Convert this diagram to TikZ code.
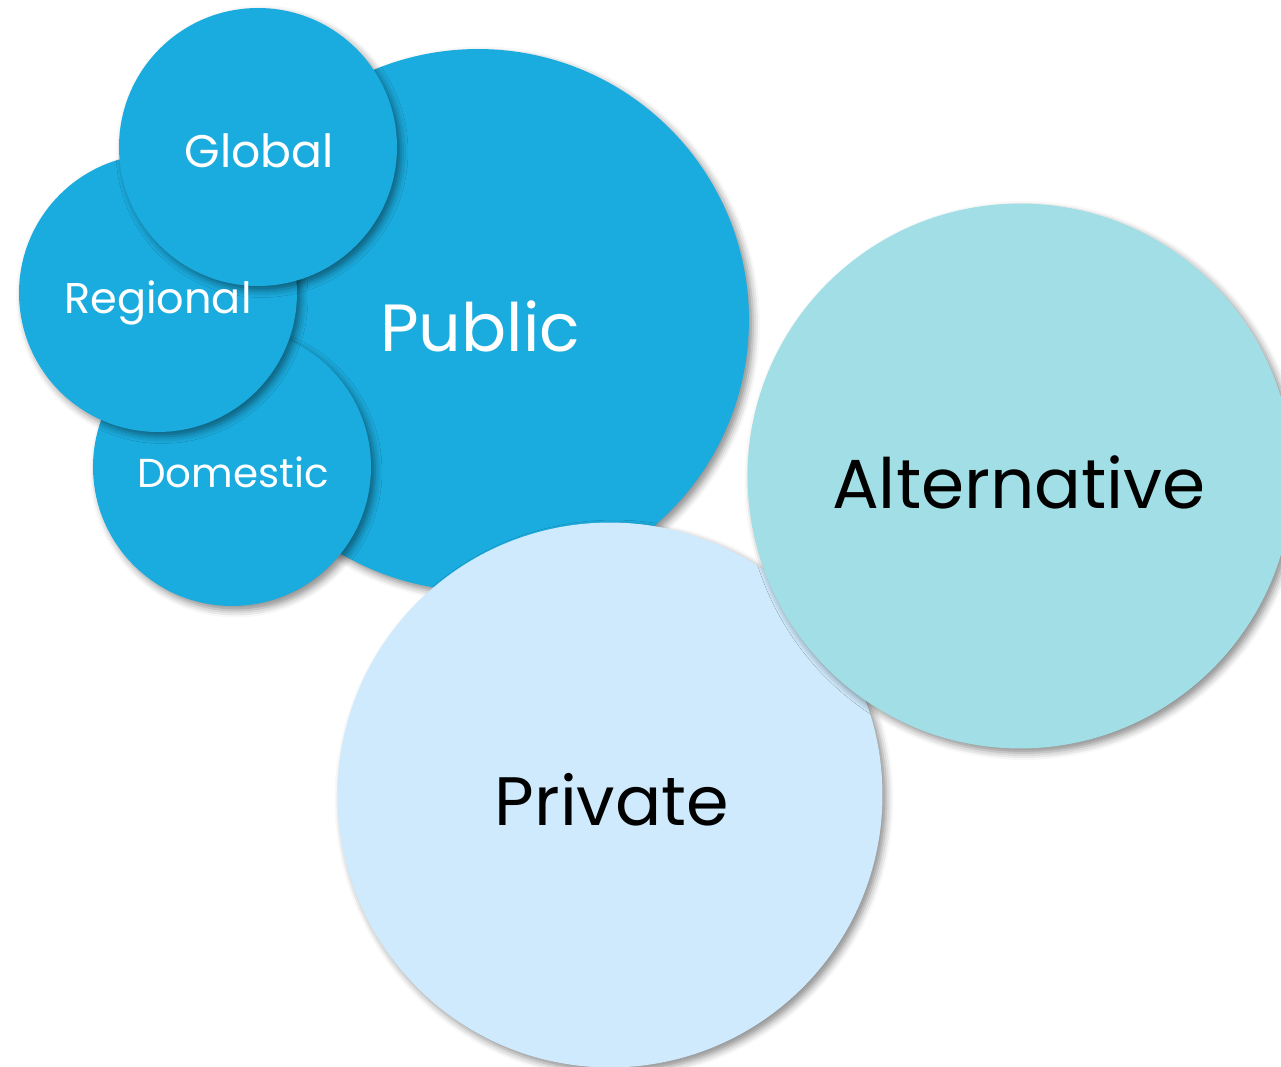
\documentclass[tikz,border=0pt]{standalone}
\usepackage{fontspec}
\setmainfont{Poppins}
\usetikzlibrary{shadows.blur}
\definecolor{pubblue}{RGB}{27,172,223}
\definecolor{altteal}{RGB}{162,222,229}
\definecolor{privblue}{RGB}{207,234,252}
\begin{document}
\begin{tikzpicture}[x=0.02cm,y=-0.02cm,
  bubble/.style={circle,fill=#1,minimum size=0pt,inner sep=0pt,
    blur shadow={shadow xshift=0.08cm,shadow yshift=-0.09cm,shadow blur radius=0.14cm,shadow opacity=45}},
  bigtext/.style={font=\fontsize{#1}{#1}\selectfont,anchor=base},
  smalltext/.style={font=\fontsize{#1}{#1}\selectfont,anchor=base,text=white}]
\useasboundingbox (0,0) rectangle (1281,1067);
\clip (0,0) rectangle (1281,1067);
% circles, back to front
\node[bubble=pubblue,minimum size=10.84cm] (public) at (478,320) {};
\node[bubble=pubblue,minimum size=5.56cm] (domestic) at (232,467) {};
\node[bubble=pubblue,minimum size=5.56cm] (regional) at (158,293) {};
\node[bubble=pubblue,minimum size=5.56cm] (global) at (258,147) {};
\node[bubble=privblue,minimum size=10.9cm] (private) at (610,795) {};
\node[bubble=altteal,minimum size=10.9cm] (alternative) at (1020,476) {};
% labels
\node[bigtext=38,text=white] (publicl) at (480,352) {Public};
\node[bigtext=39.5,text=black] (altl) at (1019,508) {Alternative};
\node[bigtext=39,text=black] (privl) at (612,825) {Private};
\node[smalltext=26] (globall) at (259,168) {Global};
\node[smalltext=24.5] (regionall) at (158,314) {Regional};
\node[smalltext=23] (domesticl) at (233,487) {Domestic};
\end{tikzpicture}
\end{document}
